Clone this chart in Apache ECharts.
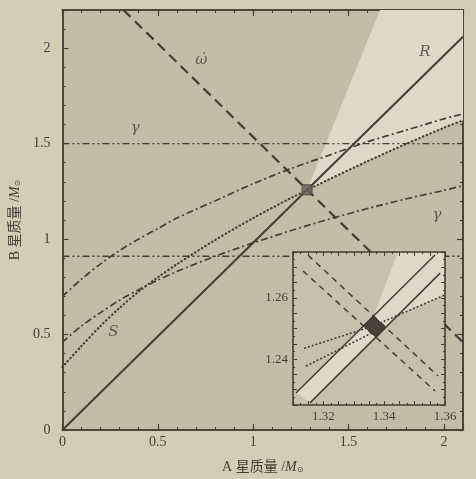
<!DOCTYPE html>
<html>
<head>
<meta charset="utf-8">
<script src="https://cdn.jsdelivr.net/npm/echarts@6/dist/echarts.min.js"></script>
<style>
  html, body { margin: 0; padding: 0; background: #d6cbb4; }
  #chart { width: 476px; height: 479px; }
</style>
</head>
<body>
<div id="chart"></div>
<script>
// Mass–mass diagram of a double-pulsar system: each constraint is a curve
// in the (A mass, B mass) plane; all of them cross at one point.

// ---- main panel (solar masses) ----
const massA       = [0, 0.1, 0.2, 0.3, 0.4, 0.5, 0.6, 0.8, 1.0, 1.2, 1.4, 1.6, 1.8, 2.0, 2.1];
const gammaUpper  = [0.70, 0.79, 0.87, 0.94, 1.00, 1.055, 1.11, 1.20, 1.29, 1.37, 1.44, 1.51, 1.57, 1.63, 1.655];
const gammaLower  = [0.46, 0.545, 0.615, 0.68, 0.735, 0.785, 0.83, 0.91, 0.98, 1.045, 1.105, 1.16, 1.21, 1.255, 1.28];
const shapiroS    = [0.33, 0.44, 0.545, 0.64, 0.725, 0.80, 0.868, 0.995, 1.11, 1.216, 1.314, 1.408, 1.498, 1.583, 1.622];
const rangeUpper  = 1.50;
const rangeLower  = 0.91;
const ratioLine   = [[0, 0], [2.1, 2.06]];          // R
const omegaLine   = [[0.32, 2.2], [2.1, 0.459]];    // periastron advance
const allowedEdge = [1.665, 2.2];                   // edge of the allowed wedge
const xTicksMain  = [0, 0.5, 1, 1.5, 2];
const yTicksMain  = [0, 0.5, 1, 1.5, 2];

// ---- zoomed panel ----
const ratioUpperZ = [[1.3110, 1.2289], [1.3567, 1.2740]];
const ratioLowerZ = [[1.3156, 1.2257], [1.3584, 1.2681]];
const omegaUpperZ = [[1.3149, 1.2740], [1.3577, 1.2345]];
const omegaLowerZ = [[1.3133, 1.2688], [1.3567, 1.2296]];
const shapiroAZ   = [[1.3139, 1.2436], [1.3363, 1.2508], [1.3600, 1.2610]];
const shapiroBZ   = [[1.3145, 1.2378], [1.3368, 1.2490]];
const allowedEdgeZ = [1.3445, 1.275];
const xTicksZoom  = [1.32, 1.34, 1.36];
const yTicksZoom  = [1.24, 1.26];

// text annotations [label, x, y]
const annotations = [
  ['ω̇', 0.728, 1.94],
  ['R', 1.90, 1.977],
  ['γ', 0.382, 1.579],
  ['γ', 1.964, 1.123],
  ['S', 0.267, 0.512]
];

const ink = '#463c33';
const plotBg = '#c5bba7';
const lightBg = '#e0d8c7';
const insetBg = '#c9bfac';
const serif = '"Liberation Serif","DejaVu Serif",serif';

function intersect(a, b) {
  const [p1, p2] = a, [p3, p4] = b;
  const d = (p1[0] - p2[0]) * (p3[1] - p4[1]) - (p1[1] - p2[1]) * (p3[0] - p4[0]);
  const t = ((p1[0] - p3[0]) * (p3[1] - p4[1]) - (p1[1] - p3[1]) * (p3[0] - p4[0])) / d;
  return [p1[0] + t * (p2[0] - p1[0]), p1[1] + t * (p2[1] - p1[1])];
}
function pairs(xs, ys) { return xs.map((x, i) => [x, ys[i]]); }
function tickFmt(list) {
  return v => { const hit = list.find(t => Math.abs(t - v) < 1e-6); return hit === undefined ? '' : String(hit); };
}

const crossMain = intersect(ratioLine, omegaLine);
const sPts = pairs(massA, shapiroS);

// allowed wedge in the main panel
const wedgeMain = [crossMain, allowedEdge, [2.1, 2.2]]
  .concat(sPts.filter(p => p[0] > crossMain[0]).reverse())
  .concat([crossMain]);

// zoomed panel: shaded error box and light regions
const boxZ = [
  intersect(ratioUpperZ, omegaUpperZ),
  intersect(ratioLowerZ, omegaUpperZ),
  intersect(ratioLowerZ, omegaLowerZ),
  intersect(ratioUpperZ, omegaLowerZ)
];
const bandZ = [ratioUpperZ[0], ratioUpperZ[1], ratioLowerZ[1], ratioLowerZ[0]];
const wedgeZ = [boxZ[0], allowedEdgeZ, [1.36, 1.275], shapiroAZ[2], shapiroAZ[1], boxZ[0]];

function line(data, style, extra) {
  return Object.assign({
    type: 'line', data, symbol: 'none', silent: true, animation: false, z: 2,
    lineStyle: Object.assign({ color: ink, width: 1.6 }, style)
  }, extra || {});
}
const DASHDOT = [7, 3, 2, 3];
const DASHDOTDOT = [7, 3, 2, 3, 2, 3];
const DOT = [0.4, 3.6];

function mainX(pos, interval, len, labels) {
  return {
    gridIndex: 0, type: 'value', min: 0, max: 2.1, interval, position: pos,
    axisLine: { show: true, onZero: false, lineStyle: { color: ink, width: 1.5 } },
    axisTick: { show: true, inside: true, length: len, lineStyle: { color: ink, width: 1.1 } },
    axisLabel: labels ? { show: true, margin: 5, fontFamily: serif, fontSize: 14, color: ink, formatter: tickFmt(xTicksMain) } : { show: false },
    splitLine: { show: false }
  };
}
function mainY(pos, interval, len, labels) {
  return {
    gridIndex: 0, type: 'value', min: 0, max: 2.2, interval, position: pos,
    axisLine: { show: true, onZero: false, lineStyle: { color: ink, width: 1.5 } },
    axisTick: { show: true, inside: true, length: len, lineStyle: { color: ink, width: 1.1 } },
    axisLabel: labels ? { show: true, margin: 12, fontFamily: serif, fontSize: 14, color: ink, formatter: tickFmt(yTicksMain) } : { show: false },
    splitLine: { show: false }
  };
}
function zoomX(pos, labels) {
  return {
    gridIndex: 1, type: 'value', min: 1.31, max: 1.36, interval: 0.005, position: pos, z: 10,
    axisLine: { show: true, onZero: false, lineStyle: { color: ink, width: 1.6 } },
    axisTick: { show: true, inside: true, length: 4, lineStyle: { color: ink, width: 1 } },
    minorTick: { show: true, splitNumber: 2, length: 2, lineStyle: { color: ink, width: 1 } },
    axisLabel: labels ? { show: true, margin: 5, fontFamily: serif, fontSize: 13, color: ink, formatter: tickFmt(xTicksZoom) } : { show: false },
    splitLine: { show: false }
  };
}
function zoomY(pos, labels) {
  return {
    gridIndex: 1, type: 'value', min: 1.225, max: 1.275, interval: 0.005, position: pos, z: 10,
    axisLine: { show: true, onZero: false, lineStyle: { color: ink, width: 1.6 } },
    axisTick: { show: true, inside: true, length: 4, lineStyle: { color: ink, width: 1 } },
    minorTick: { show: true, splitNumber: 2, length: 2, lineStyle: { color: ink, width: 1 } },
    axisLabel: labels ? { show: true, margin: 5, fontFamily: serif, fontSize: 13, color: ink, formatter: tickFmt(yTicksZoom) } : { show: false },
    splitLine: { show: false }
  };
}

const nameRich = {
  t: { fontFamily: '"Liberation Serif","Noto Sans CJK SC",serif', fontSize: 14, color: ink },
  m: { fontFamily: serif, fontStyle: 'italic', fontSize: 14, color: ink },
  s: { fontFamily: '"DejaVu Sans",sans-serif', fontSize: 8, color: ink, verticalAlign: 'bottom', lineHeight: 10 }
};

const xAxes = [
  Object.assign(mainX('bottom', 0.5, 6, true), {
    name: '{t|A 星质量 /}{m|M}{s|⊙}', nameLocation: 'middle', nameGap: 30,
    nameTextStyle: { rich: nameRich }
  }),
  mainX('bottom', 0.1, 3, false),
  mainX('top', 0.5, 6, false),
  mainX('top', 0.1, 3, false),
  zoomX('bottom', true),
  zoomX('top', false)
];
const yAxes = [
  Object.assign(mainY('left', 0.5, 6, true), {
    name: '{t|B 星质量 /}{m|M}{s|⊙}', nameLocation: 'middle', nameGap: 40, nameRotate: 90,
    nameTextStyle: { rich: nameRich }
  }),
  mainY('left', 0.1, 3, false),
  mainY('right', 0.5, 6, false),
  mainY('right', 0.1, 3, false),
  zoomY('left', true),
  zoomY('right', false)
];

const zoomAxes = { xAxisIndex: 4, yAxisIndex: 4 };

const series = [
  // light allowed wedge
  {
    type: 'custom', silent: true, animation: false, z: 1, data: [[1, 1]],
    renderItem: (params, api) => ({
      type: 'polygon', shape: { points: wedgeMain.map(p => api.coord(p)) },
      style: { fill: lightBg }
    })
  },
  line([[0, rangeUpper], [2.1, rangeUpper]], { type: DASHDOTDOT, width: 1.4 }),
  line([[0, rangeLower], [2.1, rangeLower]], { type: DASHDOTDOT, width: 1.4 }),
  line(pairs(massA, gammaUpper), { type: DASHDOT, width: 1.7 }, { smooth: 0.3 }),
  line(pairs(massA, gammaLower), { type: DASHDOT, width: 1.7 }, { smooth: 0.3 }),
  line(sPts, { type: DOT, width: 2.2, cap: 'round' }, { smooth: 0.3 }),
  line(omegaLine, { type: [10, 6], width: 2.2 }),
  line(ratioLine, { type: 'solid', width: 2 }),
  {
    type: 'scatter', silent: true, animation: false, z: 3, data: [crossMain],
    symbol: 'rect', symbolSize: 10,
    itemStyle: { color: '#6b6157', borderColor: '#3e352d', borderWidth: 1 }
  },
  {
    type: 'scatter', silent: true, animation: false, z: 3,
    data: annotations.map(a => ({ name: a[0], value: [a[1], a[2]] })),
    symbolSize: 1, itemStyle: { color: 'rgba(0,0,0,0)' },
    label: {
      show: true, position: 'inside', formatter: '{b}',
      fontFamily: '"DejaVu Serif","Liberation Serif",serif', fontStyle: 'italic', fontSize: 15, color: ink
    }
  },

  // ---- zoomed panel ----
  Object.assign({
    type: 'custom', silent: true, animation: false, z: 5, data: [[1.33, 1.25]],
    renderItem: (params, api) => {
      const cs = params.coordSys;
      return {
        type: 'group', children: [
          { type: 'rect', shape: { x: cs.x, y: cs.y, width: cs.width, height: cs.height }, style: { fill: insetBg } },
          { type: 'polygon', shape: { points: bandZ.map(p => api.coord(p)) }, style: { fill: lightBg } },
          { type: 'polygon', shape: { points: wedgeZ.map(p => api.coord(p)) }, style: { fill: lightBg } }
        ]
      };
    }
  }, zoomAxes),
  line(shapiroAZ, { type: [0.4, 3.6], width: 1.8, cap: 'round' }, Object.assign({ z: 7 }, zoomAxes)),
  line(shapiroBZ, { type: [0.4, 3.6], width: 1.8, cap: 'round' }, Object.assign({ z: 7 }, zoomAxes)),
  line(omegaUpperZ, { type: [6, 5], width: 1.5 }, Object.assign({ z: 7 }, zoomAxes)),
  line(omegaLowerZ, { type: [6, 5], width: 1.5 }, Object.assign({ z: 7 }, zoomAxes)),
  line(ratioUpperZ, { type: 'solid', width: 1.5 }, Object.assign({ z: 7 }, zoomAxes)),
  line(ratioLowerZ, { type: 'solid', width: 1.5 }, Object.assign({ z: 7 }, zoomAxes)),
  Object.assign({
    type: 'custom', silent: true, animation: false, z: 8, data: [[1.33, 1.25]],
    renderItem: (params, api) => ({
      type: 'polygon', shape: { points: boxZ.map(p => api.coord(p)) },
      style: { fill: '#4a4036', stroke: '#3a3129', lineWidth: 1 }
    })
  }, zoomAxes)
];

const chart = echarts.init(document.getElementById('chart'), null, { renderer: 'canvas' });
chart.setOption({
  animation: false,
  backgroundColor: '#d6cbb4',
  grid: [
    { left: 62, top: 10, width: 401, height: 425, show: true, backgroundColor: plotBg, borderWidth: 0 },
    { left: 293, top: 252, width: 152, height: 153, show: false }
  ],
  xAxis: xAxes,
  yAxis: yAxes,
  series
});
</script>
</body>
</html>
